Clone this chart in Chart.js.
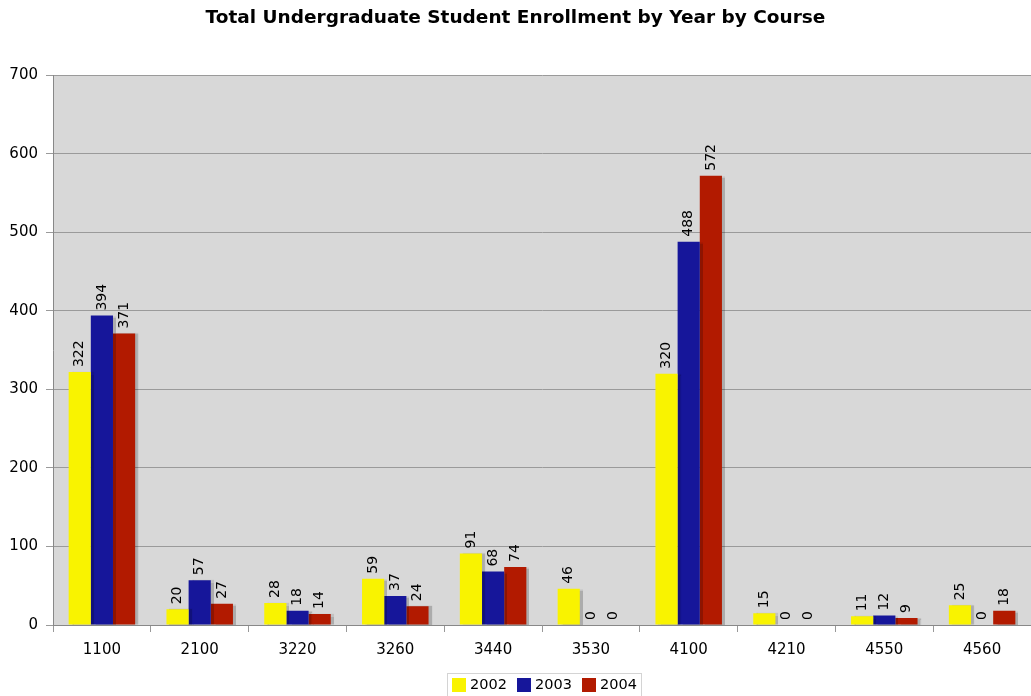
<!DOCTYPE html>
<html>
<head>
<meta charset="utf-8">
<script src="https://cdn.jsdelivr.net/npm/chart.js@4"></script>
<style>
  html, body { margin: 0; padding: 0; background: #fff; }
  #wrap { width: 1031px; height: 696px; }
</style>
</head>
<body>
<div id="wrap"><canvas id="myChart" width="1031" height="696"></canvas></div>
<script>
// cursos y matricula por año
var courses = ['1100', '2100', '3220', '3260', '3440', '3530', '4100', '4210', '4550', '4560'];
var years = ['2002', '2003', '2004'];
var enroll2002 = [322, 20, 28, 59, 91, 46, 320, 15, 11, 25];
var enroll2003 = [394, 57, 18, 37, 68, 0, 488, 0, 12, 0];
var enroll2004 = [371, 27, 14, 24, 74, 0, 572, 0, 9, 18];
var yTicks = [0, 100, 200, 300, 400, 500, 600, 700];

var barColors = ['#f9f300', '#16169a', '#b21a00'];
var FONT = "'DejaVu Sans', Verdana, sans-serif";

// fondo gris del area de datos
var plotBackground = {
    id: 'plotBackground',
    beforeDraw: function (chart) {
        var a = chart.chartArea, ctx = chart.ctx;
        ctx.save();
        ctx.fillStyle = '#d8d8d8';
        ctx.fillRect(a.left, a.top, a.right - a.left, a.bottom - a.top);
        ctx.restore();
    }
};

// sombra suave a la derecha de cada barra
var barShadow = {
    id: 'barShadow',
    beforeDatasetsDraw: function (chart) {
        var ctx = chart.ctx;
        ctx.save();
        ctx.shadowColor = 'rgba(0,0,0,0.2)';
        ctx.shadowOffsetX = 3;
        ctx.shadowOffsetY = 0;
        ctx.shadowBlur = 1;
    },
    afterDatasetsDraw: function (chart) {
        chart.ctx.restore();
    }
};

// numeros verticales sobre las barras
var valueLabels = {
    id: 'valueLabels',
    afterDatasetsDraw: function (chart) {
        var ctx = chart.ctx;
        ctx.save();
        ctx.font = '14px ' + FONT;
        ctx.fillStyle = '#000';
        ctx.textAlign = 'left';
        ctx.textBaseline = 'middle';
        chart.data.datasets.forEach(function (ds, i) {
            chart.getDatasetMeta(i).data.forEach(function (bar, j) {
                ctx.save();
                ctx.translate(bar.x, bar.y - 5);
                ctx.rotate(-Math.PI / 2);
                ctx.fillText(String(ds.data[j]), 0, 0);
                ctx.restore();
            });
        });
        ctx.restore();
    }
};

// leyenda de años, abajo y con marco
var yearLegend = {
    id: 'yearLegend',
    afterDraw: function (chart) {
        var ctx = chart.ctx;
        var ds = chart.data.datasets;
        var step = 65, box = 14, left = 447, top = 673;
        var startX = 452;
        ctx.save();
        ctx.strokeStyle = '#d4d4d4';
        ctx.lineWidth = 1;
        ctx.strokeRect(left + 0.5, top + 0.5, 194, 30);
        ctx.font = '14.5px ' + FONT;
        ctx.textBaseline = 'middle';
        ctx.textAlign = 'left';
        ds.forEach(function (d, i) {
            var x = startX + i * step;
            ctx.fillStyle = d.backgroundColor;
            ctx.fillRect(x, 678, box, box);
            ctx.fillStyle = '#000';
            ctx.fillText(d.label, x + box + 4, 685);
        });
        ctx.restore();
    }
};

var configChart = {
    type: 'bar',
    data: {
        labels: courses,
        datasets: [
            { label: years[0], data: enroll2002, backgroundColor: barColors[0] },
            { label: years[1], data: enroll2003, backgroundColor: barColors[1] },
            { label: years[2], data: enroll2004, backgroundColor: barColors[2] }
        ]
    },
    options: {
        responsive: false,
        animation: false,
        layout: { padding: { left: 0, right: 0, top: 0, bottom: 29 } },
        datasets: {
            bar: { categoryPercentage: 0.68, barPercentage: 1.0, borderWidth: 0 }
        },
        plugins: {
            title: {
                display: true,
                text: 'Total Undergraduate Student Enrollment by Year by Course',
                color: '#000',
                font: { family: FONT, size: 18.5, weight: 'bold' },
                padding: { top: 7, bottom: 46 }
            },
            legend: { display: false },
            tooltip: { enabled: false }
        },
        scales: {
            x: {
                grid: {
                    display: true,
                    drawOnChartArea: false,
                    offset: true,
                    tickLength: 7,
                    color: '#999'
                },
                border: { color: '#888', width: 1 },
                ticks: {
                    color: '#000',
                    font: { family: FONT, size: 15 },
                    padding: 9,
                    maxRotation: 0
                },
                afterFit: function (scale) { scale.height = 42; }
            },
            y: {
                min: 0,
                max: 700,
                afterBuildTicks: function (scale) {
                    scale.ticks = yTicks.map(function (v) { return { value: v }; });
                },
                grid: {
                    color: '#9a9a9a',
                    tickLength: 7
                },
                border: { color: '#888', width: 1 },
                ticks: {
                    color: '#000',
                    font: { family: FONT, size: 15 },
                    padding: 8
                },
                afterFit: function (scale) { scale.width = 53; }
            }
        }
    },
    plugins: [plotBackground, barShadow, valueLabels, yearLegend]
};

window.onload = function () {
    var ctx = document.querySelector('#myChart').getContext('2d');
    var graphicsChart = new Chart(ctx, configChart);
};
</script>
</body>
</html>
